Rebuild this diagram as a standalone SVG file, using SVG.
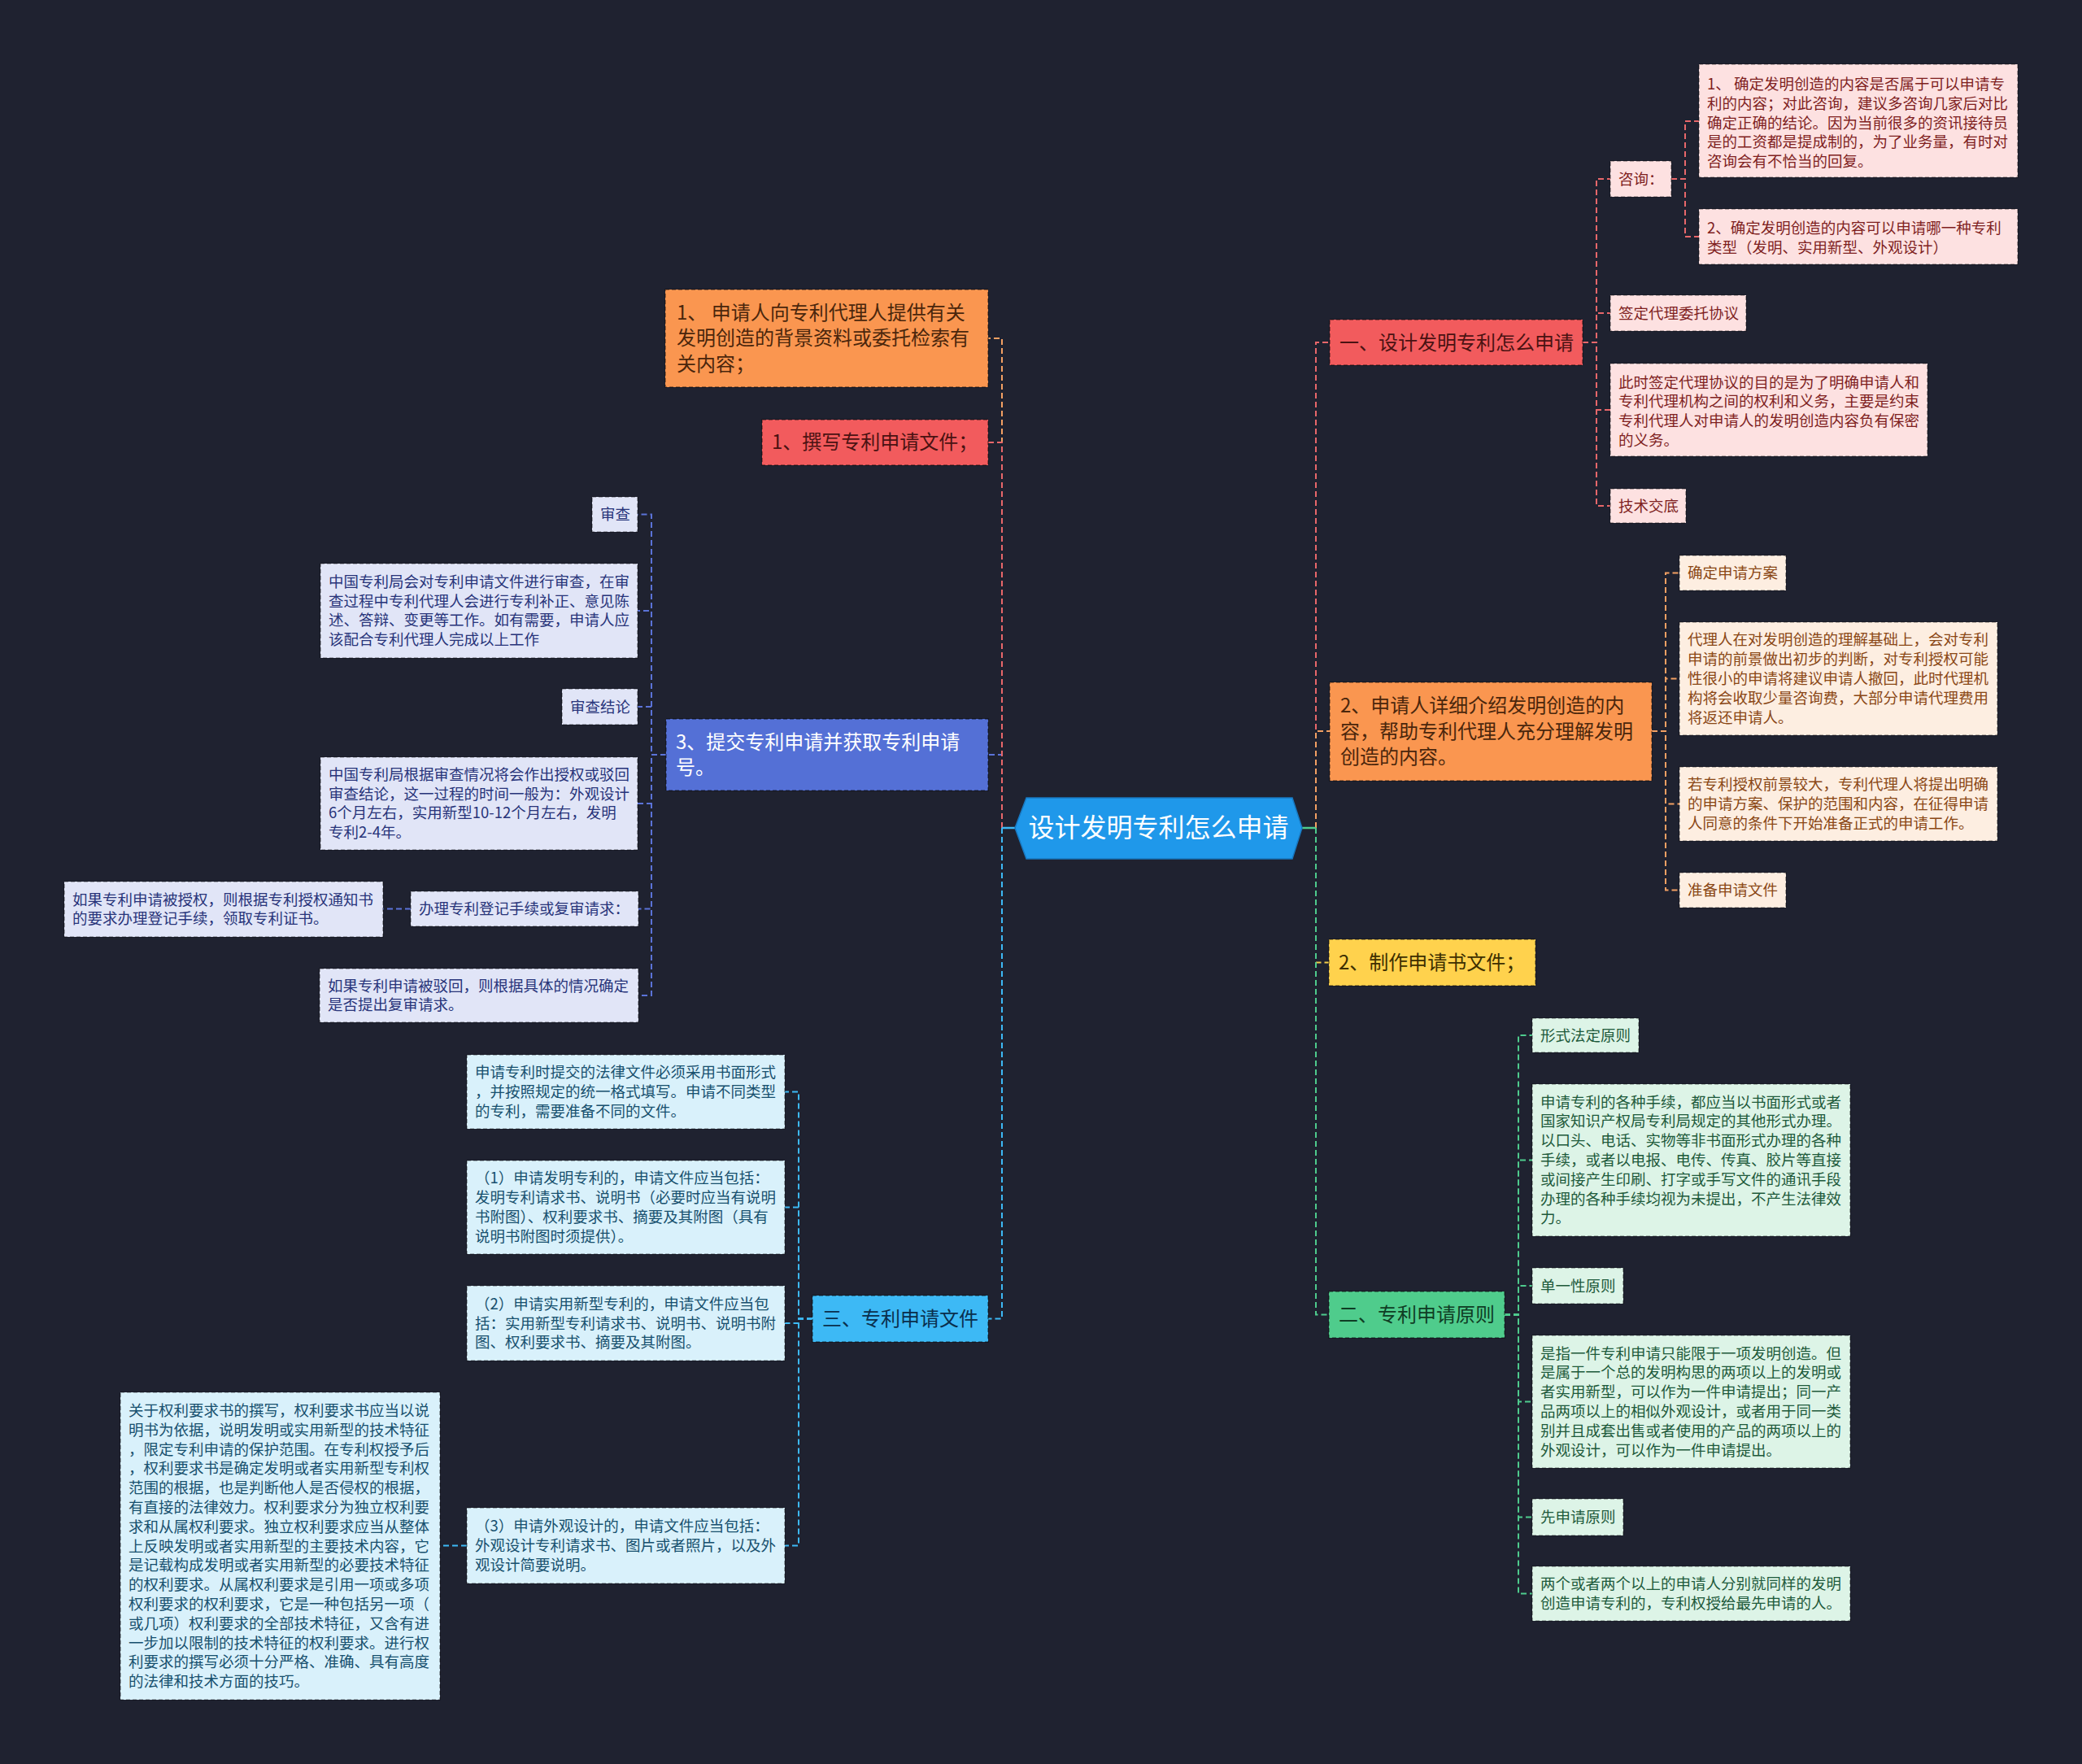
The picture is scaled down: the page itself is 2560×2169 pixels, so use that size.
<svg xmlns="http://www.w3.org/2000/svg" width="2560" height="2169" viewBox="0 0 2560 2169">
<defs>
<style>
text{font-family:"Noto Sans CJK SC","Noto Sans",sans-serif;}
.s{font-size:18.5px;}
.m{font-size:24px;}
.nb{stroke:rgba(0,0,0,0.45);stroke-width:1.5;stroke-dasharray:5 3;}
.lb{stroke:rgba(0,0,0,0.5);stroke-width:1.2;stroke-dasharray:5 3;}
.c{fill:none;stroke-width:2;stroke-dasharray:7 4;}
.red{stroke:#e8676a;} .org{stroke:#f3a063;} .yel{stroke:#f2cc4a;} .grn{stroke:#4ecb8d;} .blu{stroke:#5b73d8;} .lbl{stroke:#3db9f5;}
.fr{fill:#fde1e1;} .tr{fill:#7f1f1f;}
.fo{fill:#fdeee1;} .to{fill:#8a4715;}
.fg{fill:#ddf4e7;} .tg{fill:#1e5a3b;}
.fl{fill:#e1e5f7;} .tl{fill:#28347a;}
.fc{fill:#d9f1fb;} .tc{fill:#17506e;}
</style>
</defs>
<rect width="2560" height="2169" fill="#1f2230"/>

<g id="connectors">
<path class="c lbl" d="M1232,1018 V1621.5 H1215"/>
<path class="c blu" d="M1232,1018 V928 H1215"/>
<path class="c org" d="M1232,1018 V416 H1215"/>
<path class="c red" d="M1232,1018 V544 H1215"/>
<path d="M1248,1018 H1232" stroke="#3db9f5" stroke-width="2.5" fill="none"/>
<path class="c red" d="M1618,1018 V421 H1635"/>
<path class="c org" d="M1618,1018 V899 H1635"/>
<path class="c yel" d="M1618,1018 V1183.5 H1634"/>
<path class="c grn" d="M1618,1018 V1616.5 H1634"/>
<path d="M1601,1018 H1618" stroke="#4ecb8d" stroke-width="2.5" fill="none"/>
<path class="c red" d="M1946,421 H1963 V220 H1980"/>
<path class="c red" d="M1946,421 H1963 V385 H1980"/>
<path class="c red" d="M1946,421 H1963 V504 H1980"/>
<path class="c red" d="M1946,421 H1963 V622 H1980"/>
<path class="c red" d="M2055,220 H2072 V149 H2089"/>
<path class="c red" d="M2055,220 H2072 V291 H2089"/>
<path class="c org" d="M2031,899 H2048 V704.5 H2065"/>
<path class="c org" d="M2031,899 H2048 V834.5 H2065"/>
<path class="c org" d="M2031,899 H2048 V988.5 H2065"/>
<path class="c org" d="M2031,899 H2048 V1094.5 H2065"/>
<path class="c grn" d="M1850,1616.5 H1867 V1273 H1884"/>
<path class="c grn" d="M1850,1616.5 H1867 V1426.5 H1884"/>
<path class="c grn" d="M1850,1616.5 H1867 V1581 H1884"/>
<path class="c grn" d="M1850,1616.5 H1867 V1723.5 H1884"/>
<path class="c grn" d="M1850,1616.5 H1867 V1865.5 H1884"/>
<path class="c grn" d="M1850,1616.5 H1867 V1959.5 H1884"/>
<path class="c blu" d="M819,928 H801 V632.5 H784"/>
<path class="c blu" d="M819,928 H801 V751 H784"/>
<path class="c blu" d="M819,928 H801 V869 H784"/>
<path class="c blu" d="M819,928 H801 V988 H784"/>
<path class="c blu" d="M819,928 H801 V1117.5 H785"/>
<path class="c blu" d="M819,928 H801 V1224 H785"/>
<path class="c blu" d="M505,1117.5 H471"/>
<path class="c lbl" d="M999,1621.5 H982 V1342.5 H965"/>
<path class="c lbl" d="M999,1621.5 H982 V1484.5 H965"/>
<path class="c lbl" d="M999,1621.5 H982 V1627 H965"/>
<path class="c lbl" d="M999,1621.5 H982 V1900.5 H965"/>
<path class="c lbl" d="M574,1900.5 H541"/>
</g>

<g id="center">
<polygon points="1248,1018 1262,981 1589,981 1601,1018 1589,1056 1262,1056" fill="#1f98ea" stroke="#1878c0" stroke-width="1.5"/>
<text x="1424.5" y="1029" font-size="32" fill="#ffffff" text-anchor="middle">设计发明专利怎么申请</text>
</g>

<!-- Right side -->
<g id="r1">
<rect x="1635" y="393" width="311" height="56" fill="#f25b5d" class="nb"/>
<text class="m" x="1647" y="429.5" fill="#4a1212">一、设计发明专利怎么申请</text>
</g>
<g id="r1-zixun">
<rect x="1980" y="198" width="75" height="44" class="fr lb"/>
<text class="s tr" x="1990" y="226.5">咨询：</text>
</g>
<g id="r1-zixun-1">
<rect x="2089" y="79" width="392" height="139" class="fr lb"/>
<text class="s tr" x="2099"><tspan x="2099" y="110">1、 确定发明创造的内容是否属于可以申请专</tspan><tspan x="2099" y="133.8">利的内容；对此咨询，建议多咨询几家后对比</tspan><tspan x="2099" y="157.6">确定正确的结论。因为当前很多的资讯接待员</tspan><tspan x="2099" y="181.4">是的工资都是提成制的，为了业务量，有时对</tspan><tspan x="2099" y="205.2">咨询会有不恰当的回复。</tspan></text>
</g>
<g id="r1-zixun-2">
<rect x="2089" y="257" width="392" height="68" class="fr lb"/>
<text class="s tr"><tspan x="2099" y="287.2">2、确定发明创造的内容可以申请哪一种专利</tspan><tspan x="2099" y="311">类型（发明、实用新型、外观设计）</tspan></text>
</g>
<g id="r1-qianding">
<rect x="1980" y="363" width="167" height="44" class="fr lb"/>
<text class="s tr" x="1990" y="391.5">签定代理委托协议</text>
</g>
<g id="r1-cishi">
<rect x="1980" y="447" width="390" height="114" class="fr lb"/>
<text class="s tr"><tspan x="1990" y="476.5">此时签定代理协议的目的是为了明确申请人和</tspan><tspan x="1990" y="500.3">专利代理机构之间的权利和义务，主要是约束</tspan><tspan x="1990" y="524.1">专利代理人对申请人的发明创造内容负有保密</tspan><tspan x="1990" y="547.9">的义务。</tspan></text>
</g>
<g id="r1-jishu">
<rect x="1980" y="601" width="93" height="42" class="fr lb"/>
<text class="s tr" x="1990" y="628.5">技术交底</text>
</g>

<g id="r2">
<rect x="1635" y="839" width="396" height="121" fill="#fa9650" class="nb"/>
<text class="m" fill="#4a260c"><tspan x="1648" y="876.4">2、申请人详细介绍发明创造的内</tspan><tspan x="1648" y="907.9">容，帮助专利代理人充分理解发明</tspan><tspan x="1648" y="939.4">创造的内容。</tspan></text>
</g>
<g id="r2-fangan">
<rect x="2065" y="683" width="131" height="43" class="fo lb"/>
<text class="s to" x="2075" y="711">确定申请方案</text>
</g>
<g id="r2-dailiren">
<rect x="2065" y="765" width="391" height="139" class="fo lb"/>
<text class="s to"><tspan x="2075" y="793.4">代理人在对发明创造的理解基础上，会对专利</tspan><tspan x="2075" y="817.2">申请的前景做出初步的判断，对专利授权可能</tspan><tspan x="2075" y="841">性很小的申请将建议申请人撤回，此时代理机</tspan><tspan x="2075" y="864.8">构将会收取少量咨询费，大部分申请代理费用</tspan><tspan x="2075" y="888.6">将返还申请人。</tspan></text>
</g>
<g id="r2-ruo">
<rect x="2065" y="943" width="391" height="91" class="fo lb"/>
<text class="s to"><tspan x="2075" y="971.2">若专利授权前景较大，专利代理人将提出明确</tspan><tspan x="2075" y="995">的申请方案、保护的范围和内容，在征得申请</tspan><tspan x="2075" y="1018.8">人同意的条件下开始准备正式的申请工作。</tspan></text>
</g>
<g id="r2-zhunbei">
<rect x="2065" y="1073" width="131" height="43" class="fo lb"/>
<text class="s to" x="2075" y="1101">准备申请文件</text>
</g>

<g id="r3">
<rect x="1634" y="1155" width="254" height="57" fill="#ffd24d" class="nb"/>
<text class="m" x="1646" y="1192" fill="#3d2f00">2、制作申请书文件；</text>
</g>

<g id="r4">
<rect x="1634" y="1588" width="216" height="57" fill="#4fcc8c" class="nb"/>
<text class="m" x="1646" y="1625" fill="#0f3d24">二、专利申请原则</text>
</g>
<g id="r4-xingshi">
<rect x="1884" y="1252" width="131" height="42" class="fg lb"/>
<text class="s tg" x="1894" y="1279.5">形式法定原则</text>
</g>
<g id="r4-shouxu">
<rect x="1884" y="1333" width="391" height="187" class="fg lb"/>
<text class="s tg"><tspan x="1894" y="1361.6">申请专利的各种手续，都应当以书面形式或者</tspan><tspan x="1894" y="1385.4">国家知识产权局专利局规定的其他形式办理。</tspan><tspan x="1894" y="1409.2">以口头、电话、实物等非书面形式办理的各种</tspan><tspan x="1894" y="1433">手续，或者以电报、电传、传真、胶片等直接</tspan><tspan x="1894" y="1456.8">或间接产生印刷、打字或手写文件的通讯手段</tspan><tspan x="1894" y="1480.6">办理的各种手续均视为未提出，不产生法律效</tspan><tspan x="1894" y="1504.4">力。</tspan></text>
</g>
<g id="r4-danyi">
<rect x="1884" y="1559" width="112" height="44" class="fg lb"/>
<text class="s tg" x="1894" y="1587.5">单一性原则</text>
</g>
<g id="r4-shizhi">
<rect x="1884" y="1642" width="391" height="163" class="fg lb"/>
<text class="s tg"><tspan x="1894" y="1670.5">是指一件专利申请只能限于一项发明创造。但</tspan><tspan x="1894" y="1694.3">是属于一个总的发明构思的两项以上的发明或</tspan><tspan x="1894" y="1718.1">者实用新型，可以作为一件申请提出；同一产</tspan><tspan x="1894" y="1741.9">品两项以上的相似外观设计，或者用于同一类</tspan><tspan x="1894" y="1765.7">别并且成套出售或者使用的产品的两项以上的</tspan><tspan x="1894" y="1789.5">外观设计，可以作为一件申请提出。</tspan></text>
</g>
<g id="r4-xian">
<rect x="1884" y="1843" width="112" height="45" class="fg lb"/>
<text class="s tg" x="1894" y="1872">先申请原则</text>
</g>
<g id="r4-liangge">
<rect x="1884" y="1926" width="391" height="67" class="fg lb"/>
<text class="s tg"><tspan x="1894" y="1954.1">两个或者两个以上的申请人分别就同样的发明</tspan><tspan x="1894" y="1977.9">创造申请专利的，专利权授给最先申请的人。</tspan></text>
</g>

<!-- Left side -->
<g id="l1">
<rect x="818" y="356" width="397" height="120" fill="#fa9650" class="nb"/>
<text class="m" fill="#4a260c"><tspan x="832" y="392.9">1、 申请人向专利代理人提供有关</tspan><tspan x="832" y="424.4">发明创造的背景资料或委托检索有</tspan><tspan x="832" y="455.9">关内容；</tspan></text>
</g>
<g id="l2">
<rect x="937" y="516" width="278" height="56" fill="#f25b5d" class="nb"/>
<text class="m" x="949" y="552.4" fill="#4a1212">1、撰写专利申请文件；</text>
</g>
<g id="l3">
<rect x="819" y="884" width="396" height="88" fill="#5470d6" class="nb"/>
<text class="m" fill="#ffffff"><tspan x="831" y="920.6">3、提交专利申请并获取专利申请</tspan><tspan x="831" y="952.1">号。</tspan></text>
</g>
<g id="l3-shencha">
<rect x="728" y="611" width="56" height="43" class="fl lb"/>
<text class="s tl" x="738" y="639">审查</text>
</g>
<g id="l3-huidui">
<rect x="394" y="693" width="390" height="116" class="fl lb"/>
<text class="s tl"><tspan x="404" y="721.8">中国专利局会对专利申请文件进行审查，在审</tspan><tspan x="404" y="745.6">查过程中专利代理人会进行专利补正、意见陈</tspan><tspan x="404" y="769.4">述、答辩、变更等工作。如有需要，申请人应</tspan><tspan x="404" y="793.2">该配合专利代理人完成以上工作</tspan></text>
</g>
<g id="l3-jielun">
<rect x="691" y="847" width="93" height="44" class="fl lb"/>
<text class="s tl" x="701" y="875.5">审查结论</text>
</g>
<g id="l3-genju">
<rect x="394" y="931" width="390" height="114" class="fl lb"/>
<text class="s tl"><tspan x="404" y="958.8">中国专利局根据审查情况将会作出授权或驳回</tspan><tspan x="404" y="982.6">审查结论，这一过程的时间一般为：外观设计</tspan><tspan x="404" y="1006.4">6个月左右，实用新型10-12个月左右，发明</tspan><tspan x="404" y="1030.2">专利2-4年。</tspan></text>
</g>
<g id="l3-banli">
<rect x="505" y="1096" width="280" height="43" class="fl lb"/>
<text class="s tl" x="515" y="1124">办理专利登记手续或复审请求：</text>
</g>
<g id="l3-banli-shouquan">
<rect x="79" y="1084" width="392" height="68" class="fl lb"/>
<text class="s tl"><tspan x="89" y="1112.6">如果专利申请被授权，则根据专利授权通知书</tspan><tspan x="89" y="1136.4">的要求办理登记手续，领取专利证书。</tspan></text>
</g>
<g id="l3-bohui">
<rect x="393" y="1191" width="392" height="66" class="fl lb"/>
<text class="s tl"><tspan x="403" y="1218.6">如果专利申请被驳回，则根据具体的情况确定</tspan><tspan x="403" y="1242.4">是否提出复审请求。</tspan></text>
</g>

<g id="l4">
<rect x="999" y="1593" width="216" height="57" fill="#3db9f5" class="nb"/>
<text class="m" x="1011" y="1630" fill="#0a2f4d">三、专利申请文件</text>
</g>
<g id="l4-falv">
<rect x="574" y="1297" width="391" height="91" class="fc lb"/>
<text class="s tc"><tspan x="584" y="1325.2">申请专利时提交的法律文件必须采用书面形式</tspan><tspan x="584" y="1349">，并按照规定的统一格式填写。申请不同类型</tspan><tspan x="584" y="1372.8">的专利，需要准备不同的文件。</tspan></text>
</g>
<g id="l4-faming">
<rect x="574" y="1427" width="391" height="115" class="fc lb"/>
<text class="s tc"><tspan x="584" y="1455.3">（1）申请发明专利的，申请文件应当包括：</tspan><tspan x="584" y="1479.1">发明专利请求书、说明书（必要时应当有说明</tspan><tspan x="584" y="1502.9">书附图）、权利要求书、摘要及其附图（具有</tspan><tspan x="584" y="1526.7">说明书附图时须提供）。</tspan></text>
</g>
<g id="l4-shiyong">
<rect x="574" y="1581" width="391" height="92" class="fc lb"/>
<text class="s tc"><tspan x="584" y="1609.7">（2）申请实用新型专利的，申请文件应当包</tspan><tspan x="584" y="1633.5">括：实用新型专利请求书、说明书、说明书附</tspan><tspan x="584" y="1657.3">图、权利要求书、摘要及其附图。</tspan></text>
</g>
<g id="l4-waiguan">
<rect x="574" y="1854" width="391" height="93" class="fc lb"/>
<text class="s tc"><tspan x="584" y="1883.2">（3）申请外观设计的，申请文件应当包括：</tspan><tspan x="584" y="1907">外观设计专利请求书、图片或者照片，以及外</tspan><tspan x="584" y="1930.8">观设计简要说明。</tspan></text>
</g>
<g id="l4-waiguan-quanli">
<rect x="148" y="1712" width="393" height="378" class="fc lb"/>
<text class="s tc"><tspan x="158" y="1740.9">关于权利要求书的撰写，权利要求书应当以说</tspan><tspan x="158" y="1764.7">明书为依据，说明发明或实用新型的技术特征</tspan><tspan x="158" y="1788.5">，限定专利申请的保护范围。在专利权授予后</tspan><tspan x="158" y="1812.3">，权利要求书是确定发明或者实用新型专利权</tspan><tspan x="158" y="1836.1">范围的根据，也是判断他人是否侵权的根据，</tspan><tspan x="158" y="1859.9">有直接的法律效力。权利要求分为独立权利要</tspan><tspan x="158" y="1883.7">求和从属权利要求。独立权利要求应当从整体</tspan><tspan x="158" y="1907.5">上反映发明或者实用新型的主要技术内容，它</tspan><tspan x="158" y="1931.3">是记载构成发明或者实用新型的必要技术特征</tspan><tspan x="158" y="1955.1">的权利要求。从属权利要求是引用一项或多项</tspan><tspan x="158" y="1978.9">权利要求的权利要求，它是一种包括另一项（</tspan><tspan x="158" y="2002.7">或几项）权利要求的全部技术特征，又含有进</tspan><tspan x="158" y="2026.5">一步加以限制的技术特征的权利要求。进行权</tspan><tspan x="158" y="2050.3">利要求的撰写必须十分严格、准确、具有高度</tspan><tspan x="158" y="2074.1">的法律和技术方面的技巧。</tspan></text>
</g>
</svg>
